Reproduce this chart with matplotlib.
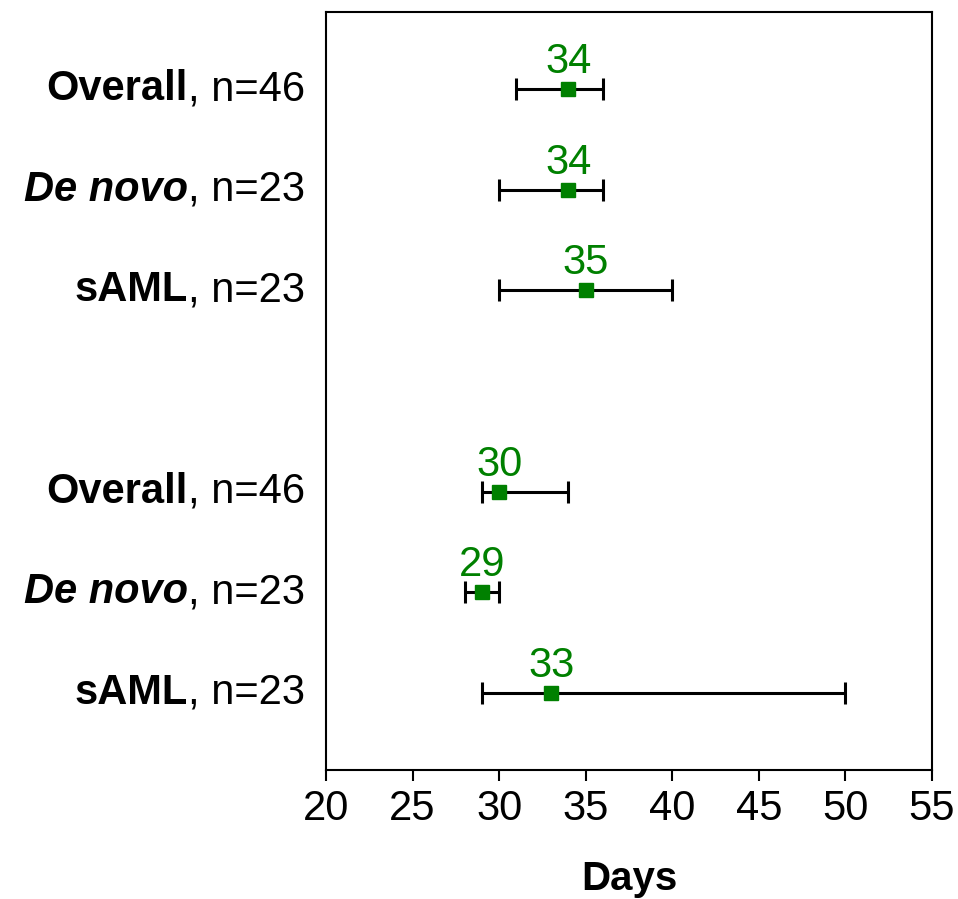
import numpy as np
import matplotlib
matplotlib.use("Agg")
import matplotlib.pyplot as plt

# -- Data --
groups = ["Overall", "De novo", "sAML", "Overall", "De novo", "sAML"]
n_values = [46, 23, 23, 46, 23, 23]
medians = [34, 34, 35, 30, 29, 33]
lower = [31, 30, 30, 29, 28, 29]
upper = [36, 36, 40, 34, 30, 50]
rows = [0, 1, 2, 4, 5, 6]  # blank row between the two blocks
x_ticks = [20, 25, 30, 35, 40, 45, 50, 55]

plt.rcParams['font.family'] = ['Liberation Sans', 'DejaVu Sans']

fig = plt.figure(figsize=(9.58, 8.99), dpi=100)
ax = fig.add_axes([0.3403, 0.1435, 0.6326, 0.8432])

med = np.array(medians)
err = [med - np.array(lower), np.array(upper) - med]
ax.errorbar(med, rows, xerr=err, fmt='s', color='#008000', ms=10,
            ecolor='black', elinewidth=2.2, capsize=8, capthick=2.2, zorder=3)

for x, y in zip(medians, rows):
    ax.annotate(str(x), (x, y), xytext=(0, 5), textcoords='offset points',
                ha='center', va='bottom', color='#008000', fontsize=30)

ax.set_xlim(20, 55)
ax.set_ylim(6.77, -0.77)
ax.set_xticks(x_ticks)
ax.set_xticklabels([str(v) for v in x_ticks],
                   family=['Liberation Sans Narrow', 'Liberation Sans'])
ax.tick_params(axis='x', direction='out', length=8, width=1.5, labelsize=30, pad=6)
ax.set_yticks(rows)
ax.set_yticklabels([])
ax.tick_params(axis='y', length=0)

for sp in ax.spines.values():
    sp.set_linewidth(1.5)

# y labels: bold/italic group name + regular n
for g, n, y in zip(groups, n_values, rows):
    style = 'italic' if g == "De novo" else 'normal'
    t = ax.annotate(f", n={n}", (0, y), xycoords=('axes fraction', 'data'),
                    xytext=(-15, 0), textcoords='offset points',
                    ha='right', va='center', fontsize=30)
    ax.annotate(g, (0, 0.5), xycoords=t, ha='right', va='center',
                fontsize=30, fontweight='bold', fontstyle=style)

ax.set_xlabel("Days", fontsize=29, fontweight='bold', labelpad=22)

fig.savefig("out.png", dpi=100)
